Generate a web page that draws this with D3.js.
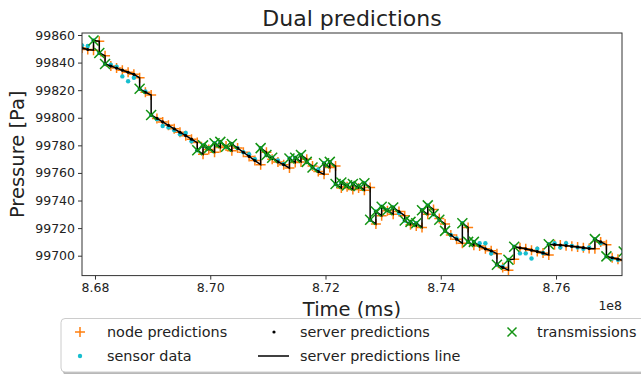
<!DOCTYPE html>
<html>
<head>
<meta charset="utf-8">
<script src="https://cdn.jsdelivr.net/npm/d3@7"></script>
<style>
  body { margin: 0; background: #fff; }
  text { font-family: "DejaVu Sans", sans-serif; fill: #222; }
</style>
</head>
<body>
<div id="viz1"></div>
<script>
var width = 641;
var height = 374;
var plot = { left: 82, right: 622, top: 33, bottom: 275.6 };

/* Data: samples every 100 s, first sample at t0 (ms) */
var t0 = 867774500;
var sampleStep = 100000;

var nodePred = [
  99850.5, 99849.5, 99849, 99855.5, 99845, 99837.5, 99836, 99834.5, 99833, 99831.5,
  99829, 99818.5, 99816.5, 99799.5, 99797, 99794.5, 99792, 99789.5, 99787, 99784.5,
  99782, 99773.5, 99777, 99775, 99778.5, 99779.5, 99776, 99778, 99775, 99772,
  99769, 99766, 99775, 99770, 99768, 99766, 99763.5, 99767.5, 99768, 99770,
  99765, 99761, 99759, 99764, 99765, 99749, 99750, 99748, 99749, 99747.5,
  99749.5, 99723, 99729, 99732.5, 99730, 99732, 99729, 99722.5, 99721.5, 99720.5,
  99730, 99733.5, 99727, 99723, 99715, 99712, 99709, 99720.5, 99707.5, 99707,
  99705, 99703.5, 99701.5, 99691.5, 99689.5, 99697.5, 99705.7, 99705, 99704, 99703,
  99702, 99700.5, 99708, 99707.7, 99707.3, 99706.8, 99706.3, 99705.8, 99705.2, 99705,
  99710, 99708, 99698.5, 99697.5, 99696.5
];

var sensorData = [
  99852.5, 99852, 99856, 99847, 99839, 99838.5, 99837, 99830, 99826.5, 99829,
  99821, 99819, 99802, 99799, 99794, 99793, 99791, 99788, 99789, 99783,
  99776.5, 99780, 99778, 99781.5, 99782.5, 99779, 99781, 99778, 99775, 99773.5,
  99770, 99778, 99773, 99771, 99769, 99766.5, 99770.5, 99771, 99773, 99768,
  99764, 99762.5, 99767, 99768, 99752, 99753, 99751, 99752, 99750.5, 99752.5,
  99726, 99732, 99735.5, 99733, 99735, 99731, 99725.5, 99724.5, 99723.5, 99733,
  99736.5, 99730, 99726, 99718, 99715, 99712.5, 99723.5, 99710, 99710, 99709,
  99709, 99701.5, 99693.5, 99692, 99697, 99706.5, 99701.7, 99701.7, 99698, 99705,
  99702, 99708.3, 99709, 99706, 99709, 99707, 99706, 99705, 99706, 99712,
  99709, 99699.5, 99698, 99697, 99703
];

// sample indices where the node sent a value to the server
var transmissionIdx = [2, 3, 4, 10, 12, 20, 21, 22, 23, 24, 25, 26, 31, 32, 33, 36, 37, 38, 39, 40,
  42, 43, 44, 45, 46, 47, 48, 49, 50, 51, 52, 53, 54, 56, 57, 58, 59, 60, 61, 62,
  63, 66, 67, 68, 72, 74, 75, 81, 89, 91, 94];

var xTicks = [868000000, 870000000, 872000000, 874000000, 876000000];
var yTicks = [99700, 99720, 99740, 99760, 99780, 99800, 99820, 99840, 99860];

var legendNames = ["node predictions", "sensor data", "server predictions", "server predictions line", "transmissions"];

/* Format Data */
var times = d3.range(nodePred.length).map(i => t0 + i * sampleStep);
var isTx = new Set(transmissionIdx);

var nodePoints = nodePred.map((v, i) => ({ t: times[i], v: v }));
var sensorPoints = sensorData.map((v, i) => ({ t: times[i], v: v }));
var serverPoints = nodePred.map((v, i) => ({ t: times[i], v: isTx.has(i) ? sensorData[i] : v }));
var txPoints = transmissionIdx.map(i => ({ t: times[i], v: sensorData[i] }));
var linePoints = [];
nodePred.forEach(function(v, i) {
  linePoints.push({ t: times[i], v: v });
  if (isTx.has(i)) linePoints.push({ t: times[i], v: sensorData[i] });
});

/* Scale */
var xScale = d3.scaleLinear()
  .domain([t0, 877144840])
  .range([plot.left, plot.right]);

var yScale = d3.scaleLinear()
  .domain([99685.57, 99861.45])
  .range([plot.bottom, plot.top]);

var orange = "#ff7f0e";
var cyan = "#17becf";
var green = "#139413";

/* Add SVG */
var svg = d3.select("#viz1")
  .append("svg")
  .attr("width", width)
  .attr("height", height);

svg.append("defs").append("clipPath")
  .attr("id", "clip")
  .append("rect")
  .attr("x", plot.left)
  .attr("y", plot.top)
  .attr("width", plot.right - plot.left)
  .attr("height", plot.bottom - plot.top);

var plusPath = "M-5,0H5M0,-5V5";
var crossPath = "M-5,-5L5,5M-5,5L5,-5";

var marks = svg.append("g").attr("clip-path", "url(#clip)");

// node predictions
marks.append("g")
  .selectAll("path")
  .data(nodePoints)
  .enter()
  .append("path")
  .attr("d", plusPath)
  .attr("transform", d => `translate(${xScale(d.t)},${yScale(d.v)})`)
  .style("stroke", orange)
  .style("stroke-width", 1.5)
  .style("fill", "none");

// sensor data
marks.append("g")
  .selectAll("circle")
  .data(sensorPoints)
  .enter()
  .append("circle")
  .attr("cx", d => xScale(d.t))
  .attr("cy", d => yScale(d.v))
  .attr("r", 2.2)
  .style("fill", cyan);

// server predictions
marks.append("g")
  .selectAll("circle")
  .data(serverPoints)
  .enter()
  .append("circle")
  .attr("cx", d => xScale(d.t))
  .attr("cy", d => yScale(d.v))
  .attr("r", 1.6)
  .style("fill", "#000");

// server predictions line
var line = d3.line()
  .x(d => xScale(d.t))
  .y(d => yScale(d.v));

marks.append("path")
  .datum(linePoints)
  .attr("d", line)
  .style("fill", "none")
  .style("stroke", "#000")
  .style("stroke-width", 1.5);

// transmissions
marks.append("g")
  .selectAll("path")
  .data(txPoints)
  .enter()
  .append("path")
  .attr("d", crossPath)
  .attr("transform", d => `translate(${xScale(d.t)},${yScale(d.v)})`)
  .style("stroke", green)
  .style("stroke-width", 1.5)
  .style("fill", "none");

/* Add Axis into SVG */
var xAxis = d3.axisBottom(xScale)
  .tickValues(xTicks)
  .tickSize(4)
  .tickPadding(4)
  .tickFormat(d => (d / 1e8).toFixed(2));
var yAxis = d3.axisLeft(yScale)
  .tickValues(yTicks)
  .tickSize(4)
  .tickPadding(3)
  .tickFormat(d3.format("d"));

var gx = svg.append("g")
  .attr("transform", `translate(0, ${plot.bottom})`)
  .call(xAxis);
var gy = svg.append("g")
  .attr("transform", `translate(${plot.left}, 0)`)
  .call(yAxis);

[gx, gy].forEach(function(g) {
  g.select(".domain").remove();
  g.selectAll(".tick line").style("stroke", "#333");
  g.selectAll(".tick text")
    .style("font-family", "DejaVu Sans")
    .style("font-size", "12.5px")
    .attr("fill", "#222");
});

svg.append("rect")
  .attr("x", plot.left)
  .attr("y", plot.top)
  .attr("width", plot.right - plot.left)
  .attr("height", plot.bottom - plot.top)
  .style("fill", "none")
  .style("stroke", "#333")
  .style("stroke-width", 1);

svg.append("text")
  .attr("x", (plot.left + plot.right) / 2)
  .attr("y", 26)
  .attr("text-anchor", "middle")
  .style("font-size", "22px")
  .text("Dual predictions");

svg.append("text")
  .attr("x", (plot.left + plot.right) / 2)
  .attr("y", 316)
  .attr("text-anchor", "middle")
  .style("font-size", "19.5px")
  .text("Time (ms)");

svg.append("text")
  .attr("x", plot.right)
  .attr("y", 310)
  .attr("text-anchor", "end")
  .style("font-size", "12.5px")
  .text("1e8");

svg.append("text")
  .attr("transform", `translate(24, ${(plot.top + plot.bottom) / 2}) rotate(-90)`)
  .attr("text-anchor", "middle")
  .style("font-size", "19.5px")
  .text("Pressure [Pa]");

/* Legend */
var legend = svg.append("g");
legend.append("rect")
  .attr("x", 63).attr("y", 321)
  .attr("width", 600).attr("height", 54)
  .attr("rx", 4)
  .style("fill", "#888")
  .style("opacity", 0.6);
legend.append("rect")
  .attr("x", 61).attr("y", 318.5)
  .attr("width", 600).attr("height", 53.5)
  .attr("rx", 4)
  .style("fill", "#fff")
  .style("stroke", "#ccc")
  .style("stroke-width", 1);

var legendPos = [
  { mx: 80, tx: 107, y: 332 },
  { mx: 80, tx: 107, y: 356 },
  { mx: 274, tx: 300, y: 332 },
  { mx: 274, tx: 300, y: 356 },
  { mx: 512, tx: 537, y: 332 }
];

var items = legend.selectAll(".legend")
  .data(legendNames)
  .enter()
  .append("g")
  .attr("class", "legend")
  .attr("transform", (d, i) => `translate(0, ${legendPos[i].y})`);

items.append("text")
  .attr("x", (d, i) => legendPos[i].tx)
  .attr("dy", ".35em")
  .style("font-size", "14.4px")
  .text(d => d);

items.each(function(d, i) {
  var g = d3.select(this);
  var mx = legendPos[i].mx;
  if (i === 0) {
    g.append("path").attr("d", plusPath).attr("transform", `translate(${mx},0)`)
      .style("stroke", orange).style("stroke-width", 1.5);
  } else if (i === 1) {
    g.append("circle").attr("cx", mx).attr("r", 2.2).style("fill", cyan);
  } else if (i === 2) {
    g.append("circle").attr("cx", mx).attr("r", 1.6).style("fill", "#000");
  } else if (i === 3) {
    g.append("line").attr("x1", mx - 16).attr("x2", mx + 15)
      .style("stroke", "#000").style("stroke-width", 1.5);
  } else {
    g.append("path").attr("d", "M-4.5,-4.5L4.5,4.5M-4.5,4.5L4.5,-4.5").attr("transform", `translate(${mx},0)`)
      .style("stroke", green).style("stroke-width", 1.5);
  }
});
</script>
</body>
</html>
